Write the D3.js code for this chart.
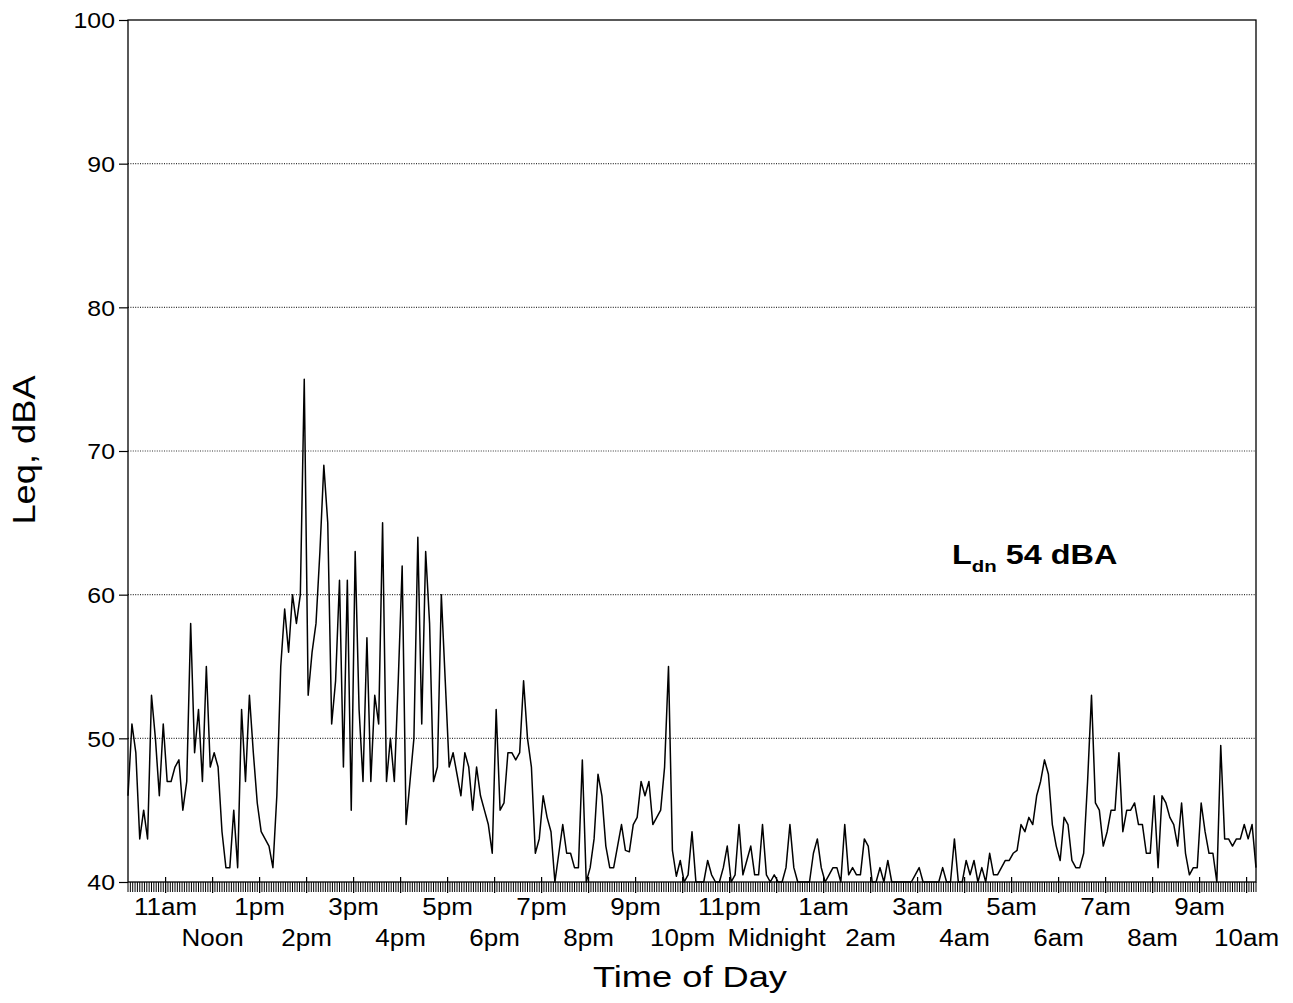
<!DOCTYPE html>
<html><head><meta charset="utf-8">
<script src="https://cdn.jsdelivr.net/npm/d3@7"></script>
<style>body{margin:0;background:#fff}</style>
</head><body>
<svg id="chart" width="1293" height="1003"></svg>
<script>
// ---- data ----
const startHour = 10.2;      // first sample ~10:12am
const stepMinutes = 5;       // one Leq value every 5 minutes
const leq = [
 46, 51, 49, 43, 45, 43, 53, 50, 46, 51,
 47, 47, 48, 48.5, 45, 47, 58, 49, 52, 47,
 55, 48, 49, 48, 43.5, 41, 41, 45, 41, 52,
 47, 53, 49, 45.5, 43.5, 43, 42.5, 41, 46, 55,
 59, 56, 60, 58, 60, 75, 53, 56, 58, 63,
 69, 65, 51, 54, 61, 48, 61, 45, 63, 52,
 47, 57, 47, 53, 51, 65, 47, 50, 47, 54,
 62, 44, 47, 50, 64, 51, 63, 58, 47, 48,
 60, 54, 48, 49, 47.5, 46, 49, 48, 45, 48,
 46, 45, 44, 42, 52, 45, 45.5, 49, 49, 48.5,
 49, 54, 50, 48, 42, 43, 46, 44.5, 43.5, 40,
 42, 44, 42, 42, 41, 41, 48.5, 40, 41, 43,
 47.5, 46, 42.5, 41, 41, 42.5, 44, 42.2, 42.1, 44,
 44.5, 47, 46, 47, 44, 44.5, 45, 48, 55, 42.2,
 40.4, 41.5, 40, 40.5, 43.5, 40, 40, 40, 41.5, 40.5,
 40, 40, 41, 42.5, 40, 40.5, 44, 40.5, 41.5, 42.5,
 40.5, 40.5, 44, 40.5, 40, 40.5, 40, 40, 41, 44,
 41, 40, 40, 40, 40, 42, 43, 41, 40, 40.5,
 41, 41, 40, 44, 40.5, 41, 40.5, 40.5, 43, 42.5,
 40, 40, 41, 40, 41.5, 40, 40, 40, 40, 40,
 40, 40.5, 41, 40, 40, 40, 40, 40, 41, 40,
 40, 43, 40, 40, 41.5, 40.5, 41.5, 40, 41, 40,
 42, 40.5, 40.5, 41, 41.5, 41.5, 42, 42.2, 44, 43.5,
 44.5, 44, 46, 47, 48.5, 47.5, 44, 42.5, 41.5, 44.5,
 44, 41.5, 41, 41, 42, 47, 53, 45.5, 45, 42.5,
 43.5, 45, 45, 49, 43.5, 45, 45, 45.5, 44, 44,
 42, 42, 46, 41, 46, 45.5, 44.5, 44, 42.5, 45.5,
 42, 40.5, 41, 41, 45.5, 43.5, 42, 42, 40, 49.5,
 43, 43, 42.5, 43, 43, 44, 43, 44, 41
];
const yTicks = [40, 50, 60, 70, 80, 90, 100];
const hourTicks = d3.range(11, 35);
const hourLabels = ["11am","Noon","1pm","2pm","3pm","4pm","5pm","6pm","7pm","8pm","9pm","10pm",
  "11pm","Midnight","1am","2am","3am","4am","5am","6am","7am","8am","9am","10am"];
const yTitle = "Leq, dBA";
const xTitle = "Time of Day";
const noteMain = "L", noteSub = "dn", noteRest = " 54 dBA";
const minorTickMinutes = 3;

// ---- layout ----
const L = 128, R = 1256, T = 20, B = 882;
const FONT = "'Liberation Sans', Arial, Helvetica, sans-serif";
const svg = d3.select("#chart");

const x = d3.scaleLinear().domain([startHour, startHour + 24]).range([L, R]);
const y = d3.scaleLinear().domain([40, 100]).range([B, T]);
const tOf = i => startHour + i * stepMinutes / 60;

// grid lines
svg.append("g").selectAll("line").data(yTicks.filter(v => v > 40 && v < 100)).join("line")
  .attr("x1", L).attr("x2", R).attr("y1", d => y(d)).attr("y2", d => y(d))
  .attr("stroke", "#333").attr("stroke-width", 1.1).attr("stroke-dasharray", "1,1.4");

// frame
svg.append("rect").attr("x", L).attr("y", T).attr("width", R - L).attr("height", B - T)
  .attr("fill", "none").attr("stroke", "#000").attr("stroke-width", 1.3);

// y axis ticks + labels
const yAxis = svg.append("g").attr("transform", `translate(${L},0)`)
  .call(d3.axisLeft(y).tickValues(yTicks).tickSize(9).tickPadding(4));
yAxis.select(".domain").remove();
yAxis.selectAll("line").attr("stroke", "#000").attr("stroke-width", 1.2);
yAxis.selectAll("text").attr("font-family", FONT).attr("font-size", 22).attr("fill", "#000")
  .attr("dy", "0.36em")
  .each(function() {
    const t = d3.select(this); const xx = +t.attr("x");
    t.attr("x", null).attr("transform", `translate(${xx},0) scale(1.13,1)`);
  });

// minor ticks along the bottom
const minorTimes = d3.range(0, 24 * 60 + 1, minorTickMinutes).map(m => startHour + m / 60);
svg.append("g").selectAll("line").data(minorTimes).join("line")
  .attr("x1", d => x(d)).attr("x2", d => x(d))
  .attr("y1", B).attr("y2", B + 10)
  .attr("stroke", "#000").attr("stroke-width", 1);

// hour ticks
svg.append("g").selectAll("line").data(hourTicks).join("line")
  .attr("x1", d => x(d)).attr("x2", d => x(d))
  .attr("y1", B - 5).attr("y2", B + 11)
  .attr("stroke", "#000").attr("stroke-width", 1.2);

// hour labels, two staggered rows
svg.append("g").selectAll("text").data(hourTicks).join("text")
  .attr("transform", (d, i) => `translate(${x(d)},${i % 2 === 0 ? 915 : 946}) scale(1.13,1)`)
  .attr("text-anchor", "middle").attr("font-family", FONT).attr("font-size", 23).attr("fill", "#000")
  .text((d, i) => hourLabels[i]);

// line
const line = d3.line().x((d, i) => x(tOf(i))).y(d => y(d));
svg.append("path").datum(leq).attr("d", line)
  .attr("fill", "none").attr("stroke", "#000").attr("stroke-width", 1.5).attr("stroke-linejoin", "round");

// titles
svg.append("text").attr("transform", `translate(690,987) scale(1.25,1)`)
  .attr("text-anchor", "middle").attr("font-family", FONT).attr("font-size", 29).attr("fill", "#000")
  .text(xTitle);
svg.append("text").attr("transform", `translate(35,450) rotate(-90) scale(1.17,1)`)
  .attr("text-anchor", "middle").attr("font-family", FONT).attr("font-size", 31).attr("fill", "#000")
  .text(yTitle);

// annotation
const note = svg.append("text").attr("transform", `translate(952,564) scale(1.2,1)`)
  .attr("font-family", FONT).attr("font-weight", "bold").attr("font-size", 27).attr("fill", "#000");
note.append("tspan").text(noteMain);
note.append("tspan").attr("font-size", 17).attr("dy", 8).text(noteSub);
note.append("tspan").attr("dy", -8).text(noteRest);
</script>
</body></html>
